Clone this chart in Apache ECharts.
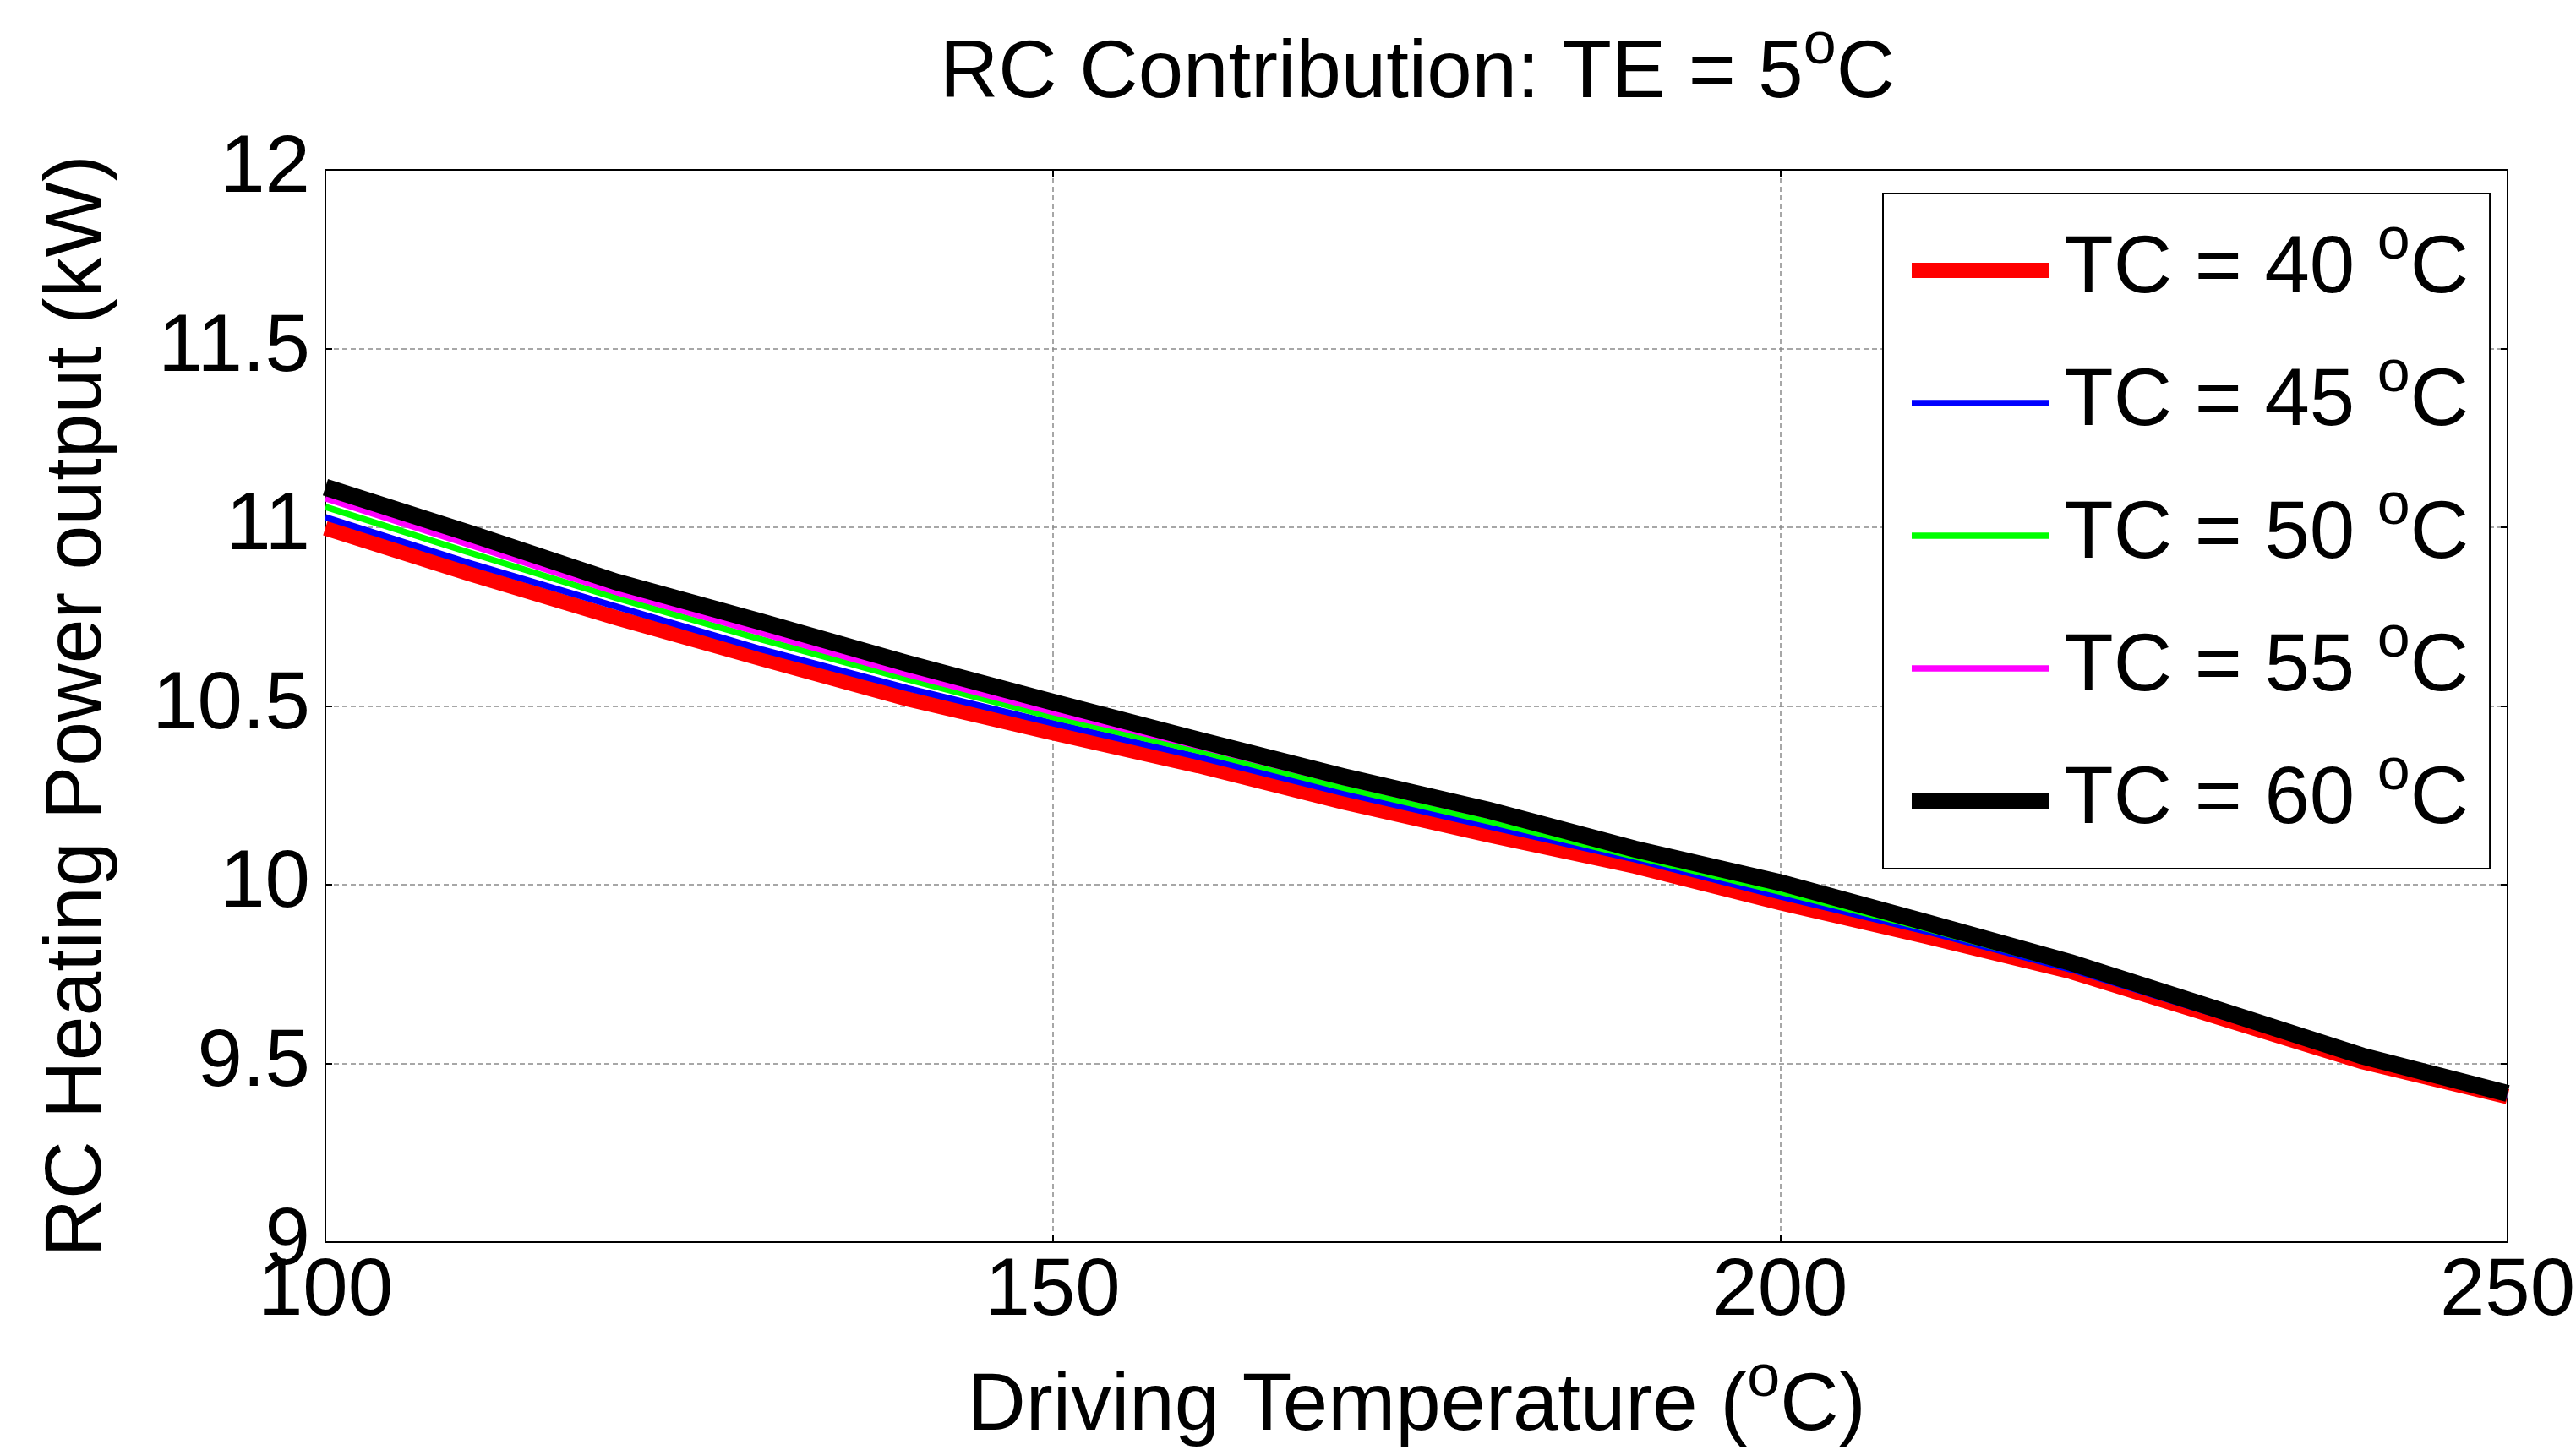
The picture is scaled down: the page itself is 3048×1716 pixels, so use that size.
<!DOCTYPE html>
<html><head><meta charset="utf-8">
<script src="https://cdn.jsdelivr.net/npm/echarts@6/dist/echarts.min.js"></script>
<style>html,body{margin:0;padding:0;background:#fff}#c{width:3048px;height:1716px}</style>
</head><body><div id="c"></div>
<script>
// Driving temperature (x)
const drivingTemp = [100,110,120,130,140,150,160,170,180,190,200,210,220,230,240,250];
// RC heating power output (kW) for each condenser temperature TC
const tc40 = [10.998,10.869,10.747,10.632,10.520,10.425,10.333,10.231,10.139,10.052,9.950,9.856,9.757,9.631,9.505,9.407];
const tc45 = [11.028,10.899,10.778,10.658,10.550,10.452,10.358,10.256,10.163,10.071,9.967,9.870,9.763,9.637,9.509,9.409];
const tc50 = [11.057,10.928,10.802,10.686,10.575,10.469,10.375,10.271,10.177,10.079,9.980,9.878,9.768,9.641,9.512,9.411];
const tc55 = [11.081,10.950,10.819,10.704,10.589,10.483,10.388,10.287,10.193,10.088,9.992,9.886,9.775,9.646,9.516,9.413];
const tc60 = [11.112,10.982,10.847,10.735,10.619,10.511,10.405,10.302,10.208,10.100,10.006,9.895,9.782,9.652,9.521,9.416];
const seriesNames = ['TC = 40','TC = 45','TC = 50','TC = 55','TC = 60'];
const seriesData = [tc40, tc45, tc50, tc55, tc60];
const seriesColors = ['#ff0000','#0000ff','#00ff00','#ff00ff','#000000'];
const seriesWidths = [18, 7.5, 7.5, 7.5, 20];

const FONT = 'Liberation Sans';
const supStyle = {fontSize: 70, fontFamily: FONT, color: '#000', padding: [0,0,66,0], lineHeight: 100};

const chart = echarts.init(document.getElementById('c'), null, {renderer: 'canvas'});
const gridLine = {show: true, lineStyle: {color: '#8a8a8a', width: 1.5, type: [6, 4]}};
const option = {
  backgroundColor: '#ffffff',
  animation: false,
  title: {
    text: 'RC Contribution: TE = 5{sup|o}C',
    left: 1672, top: 34, textAlign: 'center',
    textStyle: {fontFamily: FONT, fontSize: 96, fontWeight: 'normal', color: '#000', lineHeight: 100,
      rich: {sup: supStyle}}
  },
  grid: {left: 385, right: 81, top: 201, bottom: 246, containLabel: false, outerBoundsMode: 'none',
    show: true, borderColor: '#000', borderWidth: 2, backgroundColor: '#fff'},
  legend: {
    orient: 'vertical', left: 2228, top: 229, z: 50,
    backgroundColor: '#fff', borderColor: '#000', borderWidth: 2,
    padding: [23, 25, 12, 24],
    itemWidth: 163, itemHeight: 2, itemGap: 21,
    formatter: n => n + ' {sup|o}C',
    textStyle: {fontFamily: FONT, fontSize: 96, color: '#000', lineHeight: 100, padding: [0,0,0,12],
      rich: {sup: supStyle}},
    data: seriesNames.map((n, i) => ({name: n,
      itemStyle: {color: seriesColors[i]}, lineStyle: {color: seriesColors[i], width: seriesWidths[i], cap: 'butt'}}))
  },
  xAxis: [{
    type: 'value', min: 100, max: 250, interval: 50, position: 'bottom',
    name: 'Driving Temperature ({sup|o}C)', nameLocation: 'middle', nameGap: 146,
    nameTextStyle: {fontFamily: FONT, fontSize: 96, color: '#000', lineHeight: 100, rich: {sup: supStyle}},
    axisLine: {show: true, onZero: false, lineStyle: {color: '#000', width: 2}},
    axisTick: {show: true, inside: true, length: 8, lineStyle: {color: '#000', width: 2}},
    axisLabel: {fontFamily: FONT, fontSize: 96, color: '#000', margin: 12},
    splitLine: gridLine
  }, {
    type: 'value', min: 100, max: 250, interval: 50, position: 'top',
    axisLine: {show: true, onZero: false, lineStyle: {color: '#000', width: 2}},
    axisTick: {show: true, inside: true, length: 8, lineStyle: {color: '#000', width: 2}},
    axisLabel: {show: false}, splitLine: {show: false}
  }],
  yAxis: [{
    type: 'value', min: 9, max: 12, interval: 0.5, position: 'left',
    name: 'RC Heating Power output (kW)', nameLocation: 'middle', nameGap: 245, nameRotate: 90,
    nameTextStyle: {fontFamily: FONT, fontSize: 95, color: '#000'},
    axisLine: {show: true, onZero: false, lineStyle: {color: '#000', width: 2}},
    axisTick: {show: true, inside: true, length: 8, lineStyle: {color: '#000', width: 2}},
    axisLabel: {fontFamily: FONT, fontSize: 96, color: '#000', margin: 18, padding: [0,0,20,0]},
    splitLine: gridLine
  }, {
    type: 'value', min: 9, max: 12, interval: 0.5, position: 'right',
    axisLine: {show: true, onZero: false, lineStyle: {color: '#000', width: 2}},
    axisTick: {show: true, inside: true, length: 8, lineStyle: {color: '#000', width: 2}},
    axisLabel: {show: false}, splitLine: {show: false}
  }],
  series: seriesNames.map((n, i) => ({
    name: n, type: 'line', xAxisIndex: 0, yAxisIndex: 0,
    data: drivingTemp.map((x, j) => [x, seriesData[i][j]]),
    symbol: 'none', showSymbol: false, clip: true,
    lineStyle: {color: seriesColors[i], width: seriesWidths[i], cap: 'butt', join: 'miter'},
    itemStyle: {color: seriesColors[i]},
    z: 2 + i
  }))
};
chart.setOption(option);
</script></body></html>
